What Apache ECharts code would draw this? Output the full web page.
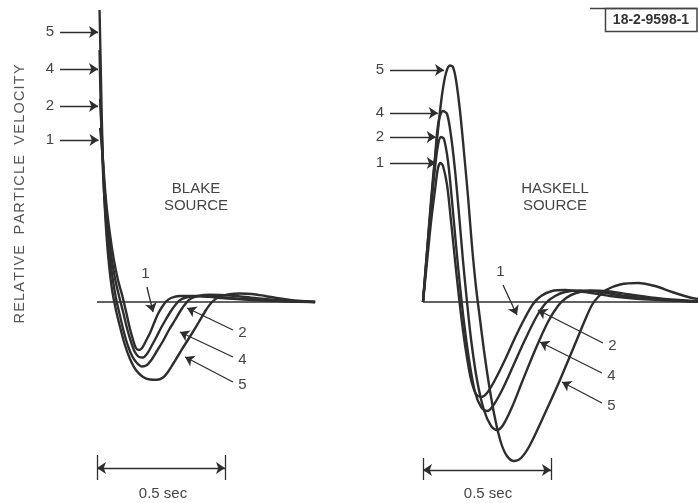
<!DOCTYPE html>
<html>
<head>
<meta charset="utf-8">
<script src="https://cdn.jsdelivr.net/npm/echarts@6/dist/echarts.min.js"></script>
<style>
  html, body { margin: 0; padding: 0; background: #ffffff; }
  #chart { width: 698px; height: 503px; }
</style>
</head>
<body>
<div id="chart"></div>
<script>
// Relative particle velocity versus time (s) for four source cases, 1, 2, 4 and 5.
const curveNames = ['1', '2', '4', '5'];

// Blake source
const blakeT1 = [0.012, 0.020, 0.035, 0.051, 0.066, 0.082, 0.098, 0.113, 0.127, 0.141, 0.152, 0.164, 0.176, 0.191, 0.207, 0.223, 0.238, 0.254, 0.270, 0.289, 0.324, 0.383, 0.461, 0.559, 0.676, 0.852];
const blakeV1 = [1.74, 1.52, 1.02, 0.67, 0.42, 0.22, 0.07, -0.09, -0.25, -0.38, -0.46, -0.48, -0.46, -0.39, -0.31, -0.21, -0.12, -0.05, 0.005, 0.04, 0.06, 0.06, 0.045, 0.027, 0.012, 0];
const blakeT2 = [0.012, 0.018, 0.023, 0.031, 0.043, 0.055, 0.070, 0.086, 0.102, 0.117, 0.133, 0.148, 0.164, 0.180, 0.195, 0.211, 0.230, 0.250, 0.270, 0.289, 0.309, 0.328, 0.355, 0.402, 0.480, 0.598, 0.734, 0.852];
const blakeV2 = [2.03, 1.72, 1.42, 1.07, 0.72, 0.47, 0.24, 0.06, -0.10, -0.26, -0.40, -0.50, -0.55, -0.555, -0.52, -0.45, -0.36, -0.26, -0.17, -0.09, -0.02, 0.025, 0.05, 0.06, 0.047, 0.026, 0.008, 0];
const blakeT4 = [0.010, 0.014, 0.020, 0.027, 0.037, 0.047, 0.059, 0.074, 0.090, 0.105, 0.121, 0.137, 0.156, 0.176, 0.195, 0.215, 0.234, 0.258, 0.281, 0.305, 0.328, 0.348, 0.367, 0.395, 0.441, 0.520, 0.617, 0.734, 0.852];
const blakeV4 = [2.52, 2.02, 1.52, 1.12, 0.77, 0.52, 0.27, 0.04, -0.14, -0.30, -0.44, -0.54, -0.61, -0.645, -0.63, -0.57, -0.49, -0.39, -0.28, -0.18, -0.08, -0.01, 0.035, 0.06, 0.072, 0.065, 0.04, 0.014, 0];
const blakeT5 = [0.010, 0.014, 0.018, 0.023, 0.029, 0.037, 0.047, 0.059, 0.074, 0.090, 0.109, 0.129, 0.152, 0.180, 0.207, 0.234, 0.258, 0.277, 0.297, 0.316, 0.340, 0.367, 0.398, 0.426, 0.449, 0.477, 0.512, 0.559, 0.605, 0.656, 0.715, 0.785, 0.852];
const blakeV5 = [2.92, 2.42, 1.92, 1.42, 1.02, 0.67, 0.37, 0.12, -0.08, -0.25, -0.43, -0.57, -0.68, -0.75, -0.775, -0.778, -0.755, -0.70, -0.62, -0.54, -0.44, -0.33, -0.20, -0.08, 0, 0.05, 0.075, 0.085, 0.08, 0.06, 0.035, 0.012, 0];

// Haskell source
const haskT1 = [0, 0.0156, 0.0313, 0.0469, 0.0586, 0.0684, 0.0781, 0.094, 0.109, 0.125, 0.141, 0.156, 0.172, 0.188, 0.207, 0.227, 0.250, 0.281, 0.320, 0.359, 0.398, 0.430, 0.461, 0.504, 0.555, 0.633, 0.730, 0.848, 1.074];
const haskV1 = [0, 0.40, 0.80, 1.12, 1.34, 1.39, 1.36, 1.17, 0.82, 0.42, 0.04, -0.28, -0.56, -0.78, -0.92, -0.95, -0.91, -0.78, -0.58, -0.36, -0.16, -0.02, 0.06, 0.11, 0.12, 0.10, 0.06, 0.03, 0.005];
const haskT2 = [0, 0.0156, 0.0313, 0.0469, 0.0586, 0.0703, 0.082, 0.098, 0.113, 0.129, 0.145, 0.160, 0.180, 0.203, 0.227, 0.250, 0.273, 0.309, 0.352, 0.398, 0.445, 0.480, 0.516, 0.555, 0.613, 0.691, 0.789, 0.926, 1.074];
const haskV2 = [0, 0.47, 0.94, 1.34, 1.57, 1.65, 1.63, 1.40, 1.02, 0.57, 0.15, -0.20, -0.58, -0.90, -1.05, -1.09, -1.04, -0.88, -0.64, -0.38, -0.14, -0.01, 0.06, 0.10, 0.115, 0.10, 0.06, 0.025, 0.005];
const haskT4 = [0, 0.0156, 0.0313, 0.0469, 0.0605, 0.078, 0.094, 0.109, 0.125, 0.141, 0.156, 0.172, 0.188, 0.211, 0.238, 0.266, 0.289, 0.313, 0.348, 0.387, 0.438, 0.488, 0.527, 0.559, 0.598, 0.652, 0.730, 0.809, 0.926, 1.074];
const haskV4 = [0, 0.50, 1.02, 1.45, 1.80, 1.91, 1.88, 1.67, 1.32, 0.87, 0.42, 0, -0.38, -0.78, -1.08, -1.24, -1.28, -1.23, -1.05, -0.80, -0.48, -0.20, -0.04, 0.04, 0.09, 0.115, 0.105, 0.075, 0.035, 0.005];
const haskT5 = [0, 0.0098, 0.0195, 0.0313, 0.043, 0.0586, 0.0742, 0.0898, 0.1055, 0.117, 0.129, 0.145, 0.160, 0.176, 0.191, 0.207, 0.223, 0.238, 0.258, 0.281, 0.305, 0.328, 0.355, 0.383, 0.418, 0.477, 0.535, 0.594, 0.633, 0.660, 0.684, 0.715, 0.770, 0.840, 0.906, 0.973, 1.043, 1.074];
const haskV5 = [0, 0.32, 0.62, 0.97, 1.32, 1.72, 2.07, 2.29, 2.365, 2.35, 2.22, 1.90, 1.50, 1.05, 0.57, 0.15, -0.18, -0.48, -0.83, -1.16, -1.41, -1.54, -1.59, -1.56, -1.43, -1.11, -0.78, -0.42, -0.18, -0.03, 0.05, 0.12, 0.175, 0.19, 0.16, 0.10, 0.045, 0.03];

// Zero-velocity baselines (time span in s)
const blakeBaseline = [0, 0.852];
const haskBaseline = [0, 1.074];

// Time scale bar length (s)
const scaleBarSeconds = 0.5;

const INK = '#2e2e2e';
const TEXT = '#454545';
const FONT = '"Liberation Sans", Arial, Helvetica, sans-serif';

function pairs(ts, vs) { return ts.map((t, i) => [t, vs[i]]); }

function curveSeries(name, ts, vs, idx) {
  return {
    name: name, type: 'line', xAxisIndex: idx, yAxisIndex: idx,
    data: pairs(ts, vs), showSymbol: false, smooth: 0.3,
    lineStyle: { color: INK, width: 2.4 }, silent: true, z: 3
  };
}

// arrow callout: label at the tail, head at the curve
function callout(label, from, to) {
  return [{ coord: from, name: label }, { coord: to }];
}

function baselineSeries(idx, span, callouts, barY, tickLo, tickHi) {
  const arrows = callouts.map(c => callout(c[0], c[1], c[2]));
  const bar = [
    [{ coord: [0, barY], name: '', symbol: 'arrow', label: { show: false } }, { coord: [scaleBarSeconds, barY], symbol: 'arrow' }],
    [{ coord: [0, tickLo], name: '', symbol: 'none', label: { show: false } }, { coord: [0, tickHi], symbol: 'none' }],
    [{ coord: [scaleBarSeconds, tickLo], name: '', symbol: 'none', label: { show: false } }, { coord: [scaleBarSeconds, tickHi], symbol: 'none' }]
  ];
  return {
    type: 'line', xAxisIndex: idx, yAxisIndex: idx,
    data: [[span[0], 0], [span[1], 0]], showSymbol: false,
    lineStyle: { color: INK, width: 1.4 }, silent: true, z: 2,
    markLine: {
      silent: true, animation: false,
      symbol: ['none', 'arrow'], symbolSize: 9,
      lineStyle: { color: INK, width: 1.3, type: 'solid' },
      label: { show: true, position: 'start', formatter: '{b}', color: TEXT, fontSize: 15, fontFamily: FONT, distance: 6 },
      emphasis: { disabled: true },
      data: arrows.concat(bar)
    }
  };
}

const blakeCallouts = [
  ['5', [-0.1445, 2.70], [0.004, 2.70]],
  ['4', [-0.1445, 2.33], [0.004, 2.33]],
  ['2', [-0.1445, 1.96], [0.004, 1.96]],
  ['1', [-0.1445, 1.62], [0.006, 1.62]],
  ['1', [0.195, 0.15], [0.219, -0.10]],
  ['2', [0.531, -0.28], [0.352, -0.06]],
  ['4', [0.531, -0.55], [0.324, -0.30]],
  ['5', [0.531, -0.80], [0.344, -0.55]]
];
const haskCallouts = [
  ['5', [-0.129, 2.32], [0.082, 2.32]],
  ['4', [-0.129, 1.89], [0.058, 1.89]],
  ['2', [-0.129, 1.65], [0.050, 1.65]],
  ['1', [-0.129, 1.39], [0.050, 1.39]],
  ['1', [0.3125, 0.17], [0.367, -0.13]],
  ['2', [0.703, -0.41], [0.449, -0.08]],
  ['4', [0.699, -0.71], [0.457, -0.40]],
  ['5', [0.699, -1.01], [0.543, -0.80]]
];

const blakeSets = [[blakeT1, blakeV1], [blakeT2, blakeV2], [blakeT4, blakeV4], [blakeT5, blakeV5]];
const haskSets = [[haskT1, haskV1], [haskT2, haskV2], [haskT4, haskV4], [haskT5, haskV5]];

const series = [];
blakeSets.forEach((s, i) => series.push(curveSeries('Blake ' + curveNames[i], s[0], s[1], 0)));
haskSets.forEach((s, i) => series.push(curveSeries('Haskell ' + curveNames[i], s[0], s[1], 1)));
series.push(baselineSeries(0, blakeBaseline, blakeCallouts, -1.66, -1.53, -1.78));
series.push(baselineSeries(1, haskBaseline, haskCallouts, -1.68, -1.56, -1.78));

const hiddenAxis = { show: false, splitLine: { show: false } };

// spaced-out lettering for the vertical axis title
const HAIR = '\u200A';
const yTitle = ['RELATIVE', 'PARTICLE', 'VELOCITY']
  .map(w => w.split('').join(HAIR))
  .join(HAIR + '  ' + HAIR);

const option = {
  backgroundColor: '#ffffff',
  animation: false,
  grid: [
    { left: 0, top: 2, width: 349, height: 500 },
    { left: 349, top: 2, width: 349, height: 500 }
  ],
  xAxis: [
    Object.assign({ type: 'value', gridIndex: 0, min: -0.37890625, max: 0.984375 }, hiddenAxis),
    Object.assign({ type: 'value', gridIndex: 1, min: -0.2890625, max: 1.07421875 }, hiddenAxis)
  ],
  yAxis: [
    Object.assign({ type: 'value', gridIndex: 0, min: -2, max: 3 }, hiddenAxis),
    Object.assign({ type: 'value', gridIndex: 1, min: -2, max: 3 }, hiddenAxis)
  ],
  series: series,
  graphic: [
    {
      type: 'text', x: 20, y: 194, rotation: Math.PI / 2, silent: true,
      style: { text: yTitle, fill: '#555', font: '14.5px ' + FONT, align: 'center', verticalAlign: 'middle' }
    },
    {
      type: 'text', x: 196, y: 197, silent: true,
      style: { text: 'BLAKE\nSOURCE', fill: TEXT, font: '15px ' + FONT, align: 'center', verticalAlign: 'middle', lineHeight: 17 }
    },
    {
      type: 'text', x: 555, y: 197, silent: true,
      style: { text: 'HASKELL\nSOURCE', fill: TEXT, font: '15px ' + FONT, align: 'center', verticalAlign: 'middle', lineHeight: 17 }
    },
    {
      type: 'text', x: 163, y: 494, silent: true,
      style: { text: '0.5 sec', fill: TEXT, font: '15px ' + FONT, align: 'center', verticalAlign: 'middle' }
    },
    {
      type: 'text', x: 488, y: 494, silent: true,
      style: { text: '0.5 sec', fill: TEXT, font: '15px ' + FONT, align: 'center', verticalAlign: 'middle' }
    },
    {
      type: 'polyline', silent: true,
      shape: { points: [[590, 8.5], [697, 8.5]] },
      style: { stroke: '#444', lineWidth: 1.5, fill: null }
    },
    {
      type: 'rect', silent: true,
      shape: { x: 605.5, y: 8.5, width: 91.5, height: 23 },
      style: { stroke: '#444', lineWidth: 1.5, fill: null }
    },
    {
      type: 'text', x: 651, y: 20.5, silent: true,
      style: { text: '18-2-9598-1', fill: '#333', font: 'bold 14px ' + FONT, align: 'center', verticalAlign: 'middle' }
    }
  ]
};

const chart = echarts.init(document.getElementById('chart'), null, { renderer: 'canvas' });
chart.setOption(option);
</script>
</body>
</html>
